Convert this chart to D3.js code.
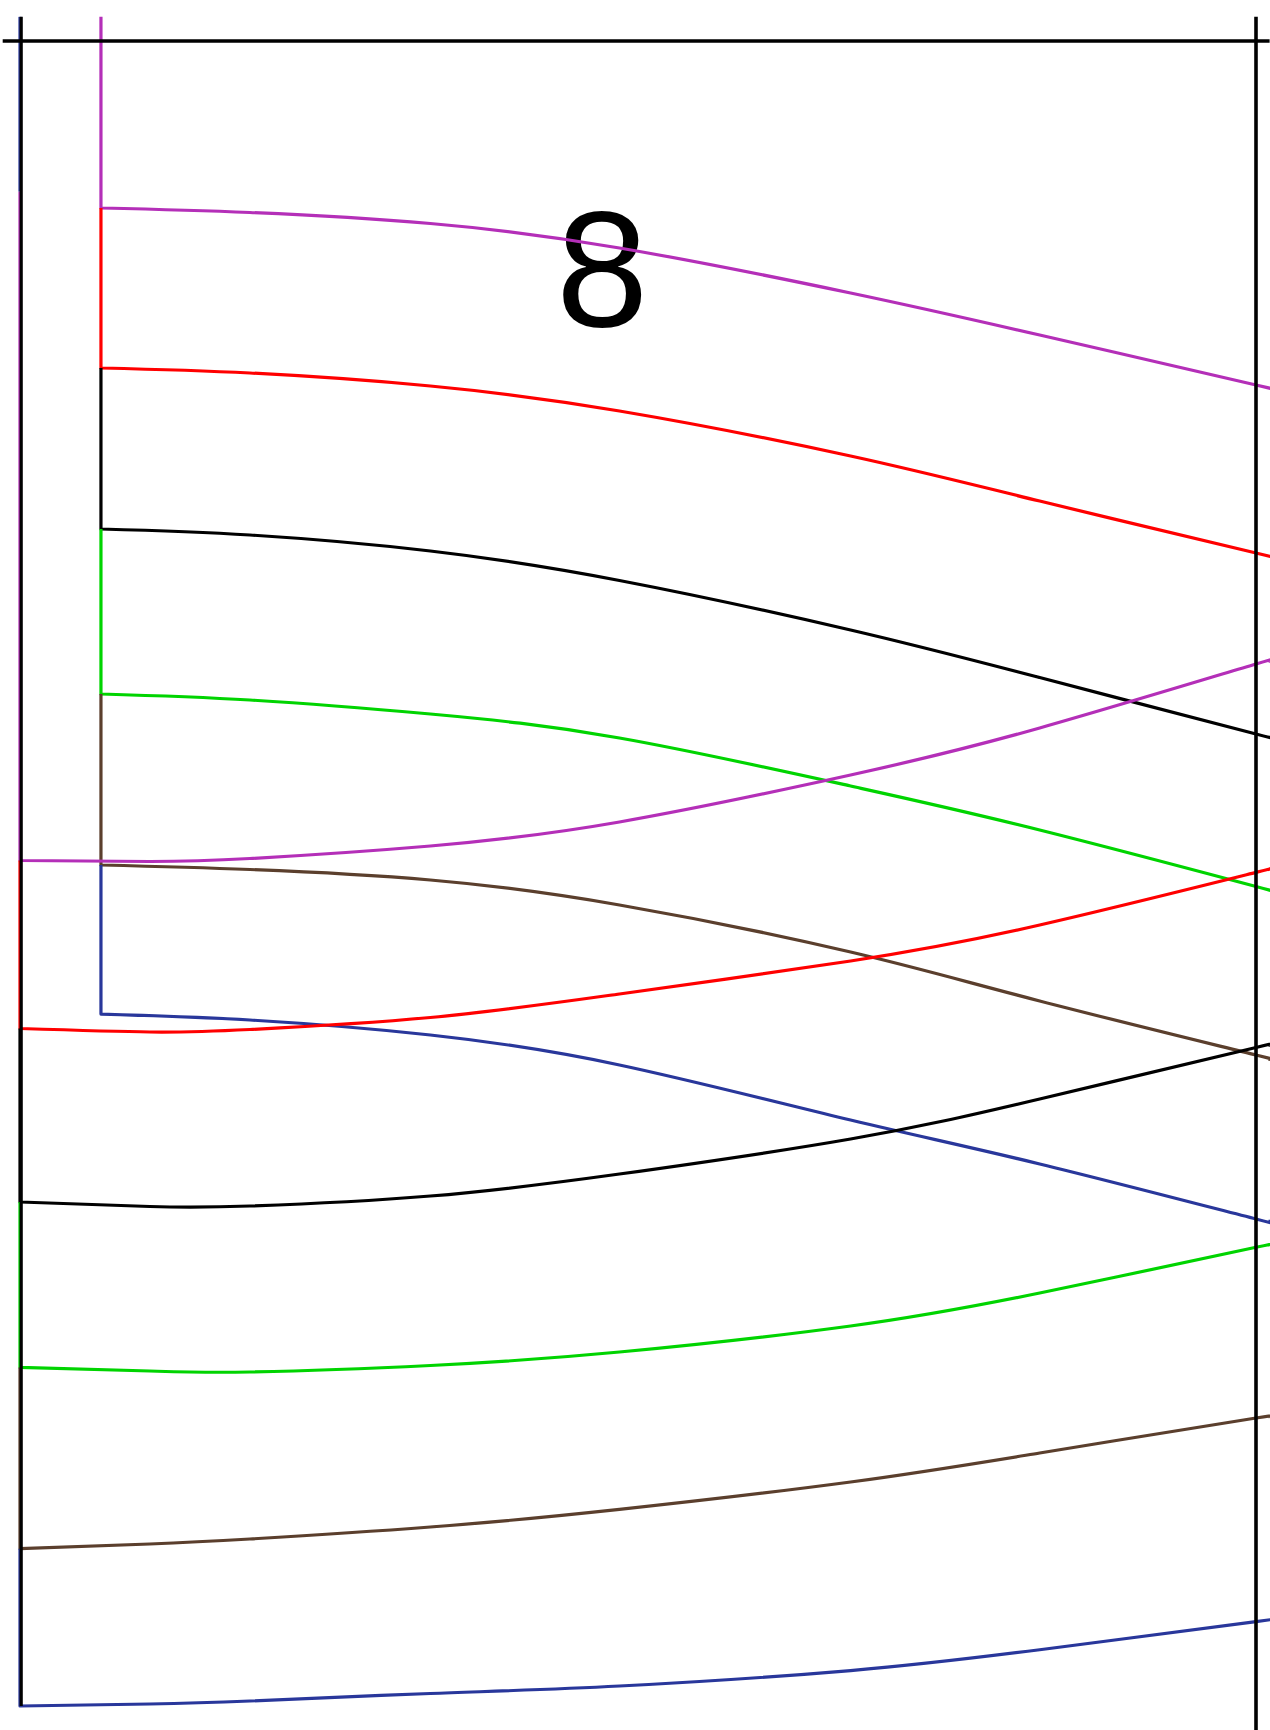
<!DOCTYPE html>
<html>
<head>
<meta charset="utf-8">
<script src="https://cdn.jsdelivr.net/npm/d3@7"></script>
<style>
  body { margin: 0; background: #fff; }
  svg { display: block; }
</style>
</head>
<body>
<script>
var w = 1270,
    h = 1730;

// series (same order in both bundles)
var seriesNames = ["purple", "red", "black", "green", "brown", "blue"];
var seriesColors = ["#b42fb8", "#ff0000", "#000000", "#00d400", "#5b3f2d", "#29379b"];

// upper bundle: leaves the inner vertical
var upperX = [0.655, 1.86, 3.32, 4.85, 6.72, 8.25, 10.0, 10.1];
var upperPurple = [2.006, 2.060, 2.192, 2.486, 3.027, 3.532, 4.132, 4.168];
var upperRed    = [3.928, 3.988, 4.144, 4.444, 4.985, 5.526, 6.150, 6.186];
var upperBlack  = [5.862, 5.934, 6.126, 6.480, 7.075, 7.646, 8.324, 8.360];
var upperGreen  = [7.844, 7.916, 8.084, 8.372, 8.949, 9.477, 10.156, 10.198];
var upperBrown  = [9.898, 9.952, 10.078, 10.378, 10.943, 11.531, 12.180, 12.228];
var upperBlue   = [11.688, 11.760, 11.940, 12.300, 12.961, 13.489, 14.150, 14.174];

// lower bundle: leaves the outer vertical
var lowerX = [0, 1.05, 1.86, 3.32, 4.85, 6.72, 8.25, 10.0, 10.1];
var lowerPurple = [9.844, 9.856, 9.820, 9.670, 9.381, 8.817, 8.252, 7.483, 7.453];
var lowerRed    = [11.862, 11.904, 11.874, 11.730, 11.447, 11.051, 10.619, 9.987, 9.953];
var lowerBlack  = [13.946, 14.000, 13.994, 13.874, 13.610, 13.189, 12.709, 12.090, 12.064];
var lowerGreen  = [15.933, 15.976, 15.988, 15.910, 15.748, 15.435, 15.039, 14.490, 14.462];
var lowerBrown  = [18.110, 18.054, 17.994, 17.850, 17.638, 17.309, 16.961, 16.541, 16.526];
var lowerBlue   = [20.000, 19.976, 19.940, 19.850, 19.760, 19.574, 19.324, 18.986, 18.967];

// where the steps begin
var topEdge = -0.29;
var bottomEdge = 20.29;
var lowerLead = 1.81;

// frame
var frameX = [0, 10];
var frameTopY = 0;
var frameTopSpan = [-0.14, 10.11];

var labelText = "8";
var labelAt = [4.71, 3.42];

var x = d3.scaleLinear().domain([0, 10]).range([20, 1256]);
var y = d3.scaleLinear().domain([0, 20]).range([41, 1706]);

var svg = d3.select("body")
    .append("svg")
    .attr("width", w)
    .attr("height", h);

// label goes first, the curves cross over it
svg.append("text")
    .attr("x", x(labelAt[0]))
    .attr("y", y(labelAt[1]))
    .attr("text-anchor", "middle")
    .style("font-family", "'Liberation Sans', Arial, sans-serif")
    .style("font-size", "166px")
    .style("fill", "#000")
    .text(labelText);

var groups = [
    { xs: upperX, lead: topEdge,
      ys: [upperPurple, upperRed, upperBlack, upperGreen, upperBrown, upperBlue] },
    { xs: lowerX, lead: lowerLead,
      ys: [lowerPurple, lowerRed, lowerBlack, lowerGreen, lowerBrown, lowerBlue] }
];

var straight = d3.line()
    .x(function(d) { return x(d[0]); })
    .y(function(d) { return y(d[1]); });

var smooth = d3.line()
    .x(function(d) { return x(d[0]); })
    .y(function(d) { return y(d[1]); })
    .curve(d3.curveNatural);

// blue step coming down from above into the lower bundle
svg.append("path")
    .attr("d", straight([[lowerX[0], topEdge], [lowerX[0], lowerLead]]))
    .style("fill", "none")
    .style("stroke", seriesColors[5])
    .style("stroke-width", 3.2);

groups.forEach(function(g) {
    svg.selectAll(null)
        .data(g.ys)
        .enter()
        .append("path")
        .attr("class", function(d, i) { return "s-" + seriesNames[i]; })
        .attr("d", function(d, i) {
            var prev = i === 0 ? g.lead : g.ys[i - 1][0];
            var step = straight([[g.xs[0], prev], [g.xs[0], d[0]]]);
            var curve = smooth(d.map(function(v, j) { return [g.xs[j], v]; }));
            return step + curve.replace(/^M/, "L");
        })
        .style("fill", "none")
        .style("stroke", function(d, i) { return seriesColors[i]; })
        .style("stroke-width", 3.2)
        .style("stroke-linejoin", "round");
});

// black frame on top
svg.append("path")
    .attr("d", straight([[frameTopSpan[0], frameTopY], [frameTopSpan[1], frameTopY]]))
    .style("stroke", "#000")
    .style("stroke-width", 3.6);

svg.append("path")
    .attr("transform", "translate(1.2,0)")
    .attr("d", straight([[frameX[0], topEdge], [frameX[0], lowerBlue[0]]]))
    .style("stroke", "#000")
    .style("stroke-width", 3.2);

svg.append("path")
    .attr("d", straight([[frameX[1], topEdge], [frameX[1], bottomEdge]]))
    .style("stroke", "#000")
    .style("stroke-width", 3.6);
</script>
</body>
</html>
